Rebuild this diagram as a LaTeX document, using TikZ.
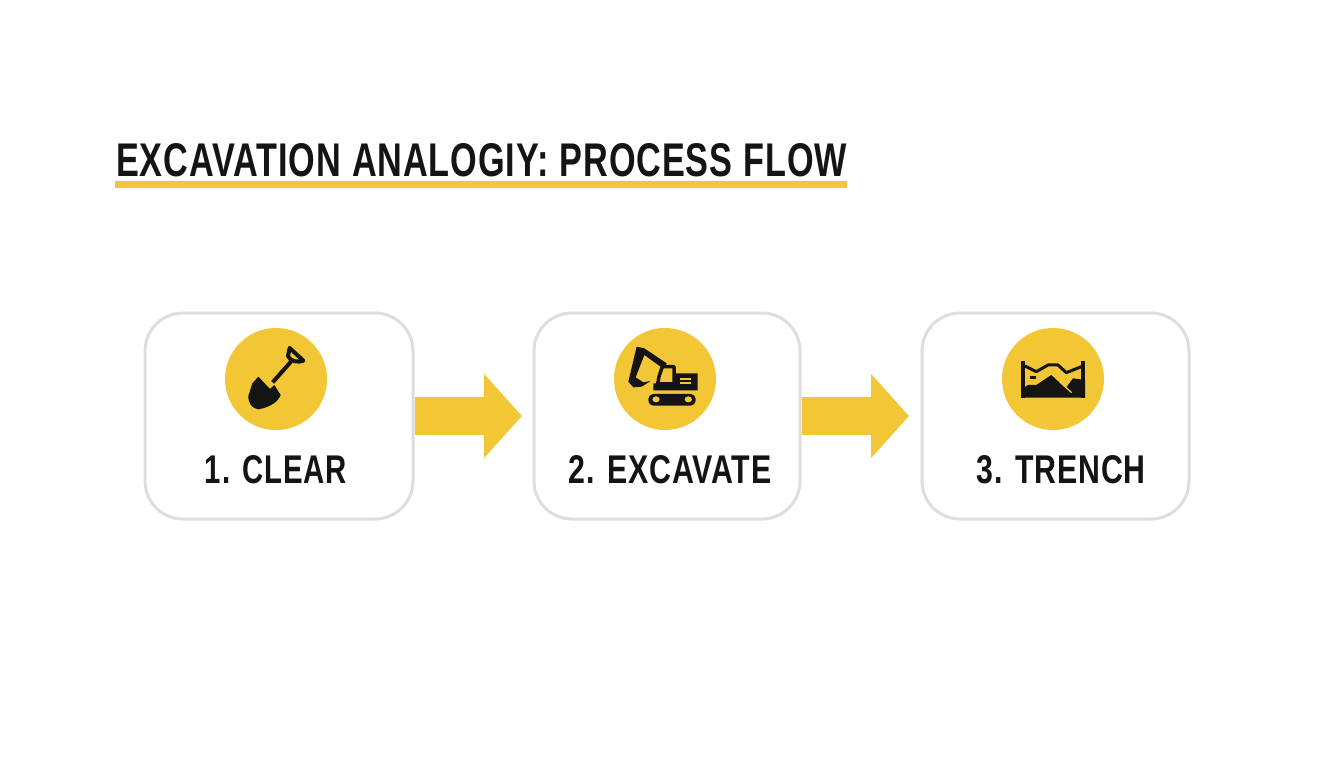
\documentclass[tikz,border=0pt]{standalone}
\usepackage{fontspec}
\usepackage{graphicx}
\usetikzlibrary{arrows.meta}
\setmainfont{Liberation Sans}[BoldFont=* Bold,LetterSpace=2.5,WordSpace=1.1]
\definecolor{amber}{HTML}{F2C635}
\definecolor{ink}{HTML}{141414}
\definecolor{edge}{HTML}{DEDEDE}
\tikzset{
  stepbox/.style={draw=edge,line width=3pt,rounded corners=38pt,fill=white,minimum height=206pt,inner sep=0pt,outer sep=0pt},
  badge/.style={circle,fill=amber,minimum size=102pt,inner sep=0pt},
  flow/.style={draw=amber,line width=38pt,-{Triangle[length=38pt,width=82pt,fill=amber]},shorten >=12pt,shorten <=1.5pt},
  lbl/.style={inner sep=0pt,text=ink,font=\bfseries},
  icon/.style={x=0.3333pt,y=-0.3333pt,fill=ink,draw=none},
}
\begin{document}
\begin{tikzpicture}[x=1pt,y=-1pt]
\useasboundingbox[fill=white] (0,0) rectangle (1344,768);
% title
\node[lbl,anchor=west] (title) at (116,160) {\resizebox{731pt}{33pt}{EXCAVATION ANALOGIY: PROCESS FLOW}};
\fill[amber] (115,181) rectangle (847,188);
% boxes
\node[stepbox,minimum width=268pt] (b1) at (279,416) {};
\node[stepbox,minimum width=266pt] (b2) at (667,416) {};
\node[stepbox,minimum width=267pt] (b3) at (1055.5,416) {};
% connectors
\draw[flow] (b1.east) -- (b2.west);
\draw[flow,shorten >=13pt] (b2.east) -- (b3.west);
% badges
\node[badge] (c1) at (276,379) {};
\node[badge] (c2) at (665,379) {};
\node[badge] (c3) at (1053,379) {};
% labels
\node[lbl] (t1) at (276,470) {\resizebox{142pt}{28pt}{1. CLEAR}};
\node[lbl] (t2) at (670,470) {\resizebox{203pt}{28pt}{2. EXCAVATE}};
\node[lbl] (t3) at (1061,470) {\resizebox{169pt}{28pt}{3. TRENCH}};
% shovel
\begin{scope}[shift={(215,320)},icon]
\fill (130,170) -- (165,207) -- (178,195) -- (197,225) .. controls (190,245) and (165,262) .. (130,268)
  .. controls (110,265) and (100,250) .. (100,228) -- (112,190) -- cycle;
\draw[ink,line width=4pt,line join=round] (173,187) -- (228,125);
\draw[ink,line width=4pt,line join=round] (224,84) -- (265,122) .. controls (250,128) and (225,125) .. (219,108) -- cycle;
\end{scope}
% excavator
\begin{scope}[shift={(605,320)},icon]
\fill[line join=round] (95,80) -- (118,85) -- (185,130) -- (175,146) -- (118,105) -- (92,172) -- (115,187) -- (137,183)
  -- (110,200) -- (85,202) -- (70,185) -- cycle;
\fill (145,190) -- (158,190) -- (205,190) -- (205,160) -- (278,160) -- (278,211) -- (145,211) -- cycle;
\draw[ink,line width=3.5pt,line join=round] (172,140) -- (207,140) -- (207,192) -- (158,192) -- (162,170) -- cycle;
\fill[amber] (225,175) rectangle (258,181);
\fill[amber] (225,186) rectangle (258,191);
\fill[rounded corners=5pt] (130,222) rectangle (272,257);
\fill[amber] (153,238) ellipse [x radius=11,y radius=9];
\fill[amber] (250,238) ellipse [x radius=11,y radius=9];
\end{scope}
% trench
\begin{scope}[shift={(993,320)},icon]
\fill (85,122) rectangle (96,233);
\fill (265,122) rectangle (276,233);
\fill (85,233) -- (85,208) -- (105,195) -- (130,195) -- (175,165) -- (218,205) -- (240,175) -- (276,180) -- (276,233) -- cycle;
\draw[amber,line width=1.3pt] (203,188) -- (236,218);
\draw[ink,line width=3pt,line join=round] (96,138) -- (130,155) -- (165,135) -- (195,135) -- (220,158) -- (265,140);
\fill (112,169) rectangle (130,176);
\end{scope}
\end{tikzpicture}
\end{document}
